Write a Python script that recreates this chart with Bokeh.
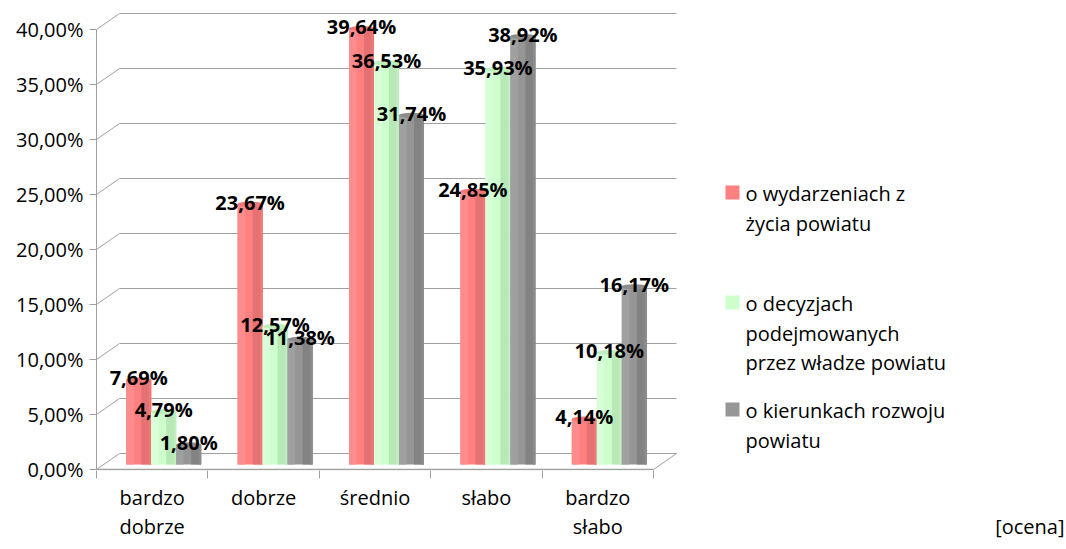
from bokeh.plotting import figure
from bokeh.models import Range1d, LinearAxis, FixedTicker, ColumnDataSource
from bokeh.core.properties import value
from bokeh.embed import file_html
from bokeh.resources import INLINE

# ---------------- data ----------------
categories = ["bardzo\ndobrze", "dobrze", "średnio", "słabo", "bardzo\nsłabo"]
series_names = ["o wydarzeniach z\nżycia powiatu",
                "o decyzjach\npodejmowanych\nprzez władze powiatu",
                "o kierunkach rozwoju\npowiatu"]
wydarzenia = [7.69, 23.67, 39.64, 24.85, 4.14]
decyzje = [4.79, 12.57, 36.53, 35.93, 10.18]
kierunki = [1.80, 11.38, 31.74, 38.92, 16.17]
y_ticks = [0, 5, 10, 15, 20, 25, 30, 35, 40]
y_tick_labels = ["0,00%", "5,00%", "10,00%", "15,00%", "20,00%",
                 "25,00%", "30,00%", "35,00%", "40,00%"]
x_title = "[ocena]"

# ---------------- style / geometry ----------------
FONT = "Open Sans"
GRID = "#a0a0a0"
PX_CAT = 111.4            # pixels per category
PX_Y = 11.0               # pixels per percent
BASE_PX = 464             # pixel row of the bars' base
DX = 23 / PX_CAT          # depth offset in x (category units)
BACK = 11 / PX_Y          # back wall offset (percent units)
FRONT = -5 / PX_Y         # front axis offset (percent units)
BAR_OFF = 11.5 / PX_CAT   # bars sit mid-depth
BW = 25 / PX_CAT          # bar width

palettes = [
    dict(base="#FF8080", light="#FF8C8C", dark="#E57272", cap="#F27878"),
    dict(base="#CCFFCC", light="#D8FFD8", dark="#B8E8B8", cap="#BFEFBF"),
    dict(base="#969696", light="#A0A0A0", dark="#838383", cap="#8C8C8C"),
]

W, H = 1064, 547
LEFT = 96
FRAME_BOTTOM = 470
BOTTOM = H - FRAME_BOTTOM
x_end = (W - LEFT) / PX_CAT
y_start = (BASE_PX - FRAME_BOTTOM) / PX_Y
y_end = BASE_PX / PX_Y


def xd(px):
    return (px - LEFT) / PX_CAT


def yd(py):
    return (BASE_PX - py) / PX_Y


p = figure(width=W, height=H, output_backend="svg", toolbar_location=None,
           x_range=Range1d(0, x_end), y_range=Range1d(y_start, y_end),
           x_axis_location=None, y_axis_location=None,
           min_border_left=LEFT, min_border_right=0, min_border_top=0,
           min_border_bottom=BOTTOM, outline_line_color=None)
p.xgrid.visible = False
p.ygrid.visible = False

ncat = len(categories)

# ---------------- 3D walls / floor ----------------
n = len(y_ticks)
p.segment(x0=[DX] * n, y0=[t + BACK for t in y_ticks],
          x1=[ncat + DX] * n, y1=[t + BACK for t in y_ticks],
          line_color=GRID, line_width=1)
p.segment(x0=[0] * n, y0=[t + FRONT for t in y_ticks],
          x1=[DX] * n, y1=[t + BACK for t in y_ticks],
          line_color=GRID, line_width=1)
p.segment(x0=[ncat], y0=[FRONT], x1=[ncat + DX], y1=[BACK],
          line_color=GRID, line_width=1)
p.segment(x0=[0], y0=[FRONT], x1=[ncat], y1=[FRONT],
          line_color=GRID, line_width=1.5)

# ---------------- bars ----------------
series = [wydarzenia, decyzje, kierunki]
for k, vals in enumerate(series):
    pal = palettes[k]
    xs = [i + 0.5 + BAR_OFF + (k - 1) * BW for i in range(ncat)]
    src = ColumnDataSource(dict(
        x=xs, top=vals,
        xl=[x - 0.35 * BW for x in xs],
        xr=[x + 0.3 * BW for x in xs],
        xe=[x + 0.45 * BW for x in xs],
    ))
    p.vbar(x="x", top="top", bottom=0, width=BW, source=src,
           fill_color=pal["base"], line_color=None)
    p.vbar(x="xl", top="top", bottom=0, width=0.3 * BW, source=src,
           fill_color=pal["light"], line_color=None)
    p.vbar(x="xr", top="top", bottom=0, width=0.4 * BW, source=src,
           fill_color=pal["dark"], line_color=None)
    p.vbar(x="xe", top="top", bottom=0, width=0.1 * BW, source=src,
           fill_color=pal["cap"], line_color=None)
    p.ellipse(x="x", y="top", width=BW, height=5 / PX_Y, source=src,
              fill_color=pal["cap"], line_color=None)

for k, vals in enumerate(series):
    xs = [i + 0.5 + BAR_OFF + (k - 1) * BW for i in range(ncat)]
    p.text(x=xs, y=vals, text=[f"{v:.2f}%".replace(".", ",") for v in vals],
           text_align="center", text_baseline="middle", y_offset=-2,
           text_font=value(FONT), text_font_style="bold",
           text_font_size="20px", text_color="#000000")

# ---------------- axes ----------------
p.extra_y_ranges = {"ax": Range1d(y_start - FRONT, y_end - FRONT)}
yaxis = LinearAxis(y_range_name="ax", ticker=FixedTicker(ticks=y_ticks),
                   bounds=(y_ticks[0], y_ticks[-1]),
                   major_label_overrides={t: l for t, l in zip(y_ticks, y_tick_labels)},
                   axis_line_color=GRID, major_tick_line_color=GRID,
                   major_tick_in=0, major_tick_out=7, minor_tick_line_color=None,
                   major_label_standoff=6,
                   major_label_text_font=FONT, major_label_text_font_size="20px",
                   major_label_text_color="#000000")
p.add_layout(yaxis, "left")

centers = [i + 0.5 for i in range(ncat)]
title_pos = 8.4
overrides = {c: l for c, l in zip(centers, categories)}
overrides[title_pos] = "\n" + x_title
xaxis = LinearAxis(ticker=FixedTicker(ticks=centers + [title_pos],
                                      minor_ticks=list(range(ncat + 1))),
                   major_label_overrides=overrides,
                   axis_line_color=None, major_tick_line_color=None,
                   major_tick_in=0, major_tick_out=8,
                   minor_tick_line_color=GRID, minor_tick_in=0, minor_tick_out=8,
                   major_label_standoff=5,
                   major_label_text_font=FONT, major_label_text_font_size="20px",
                   major_label_text_color="#000000",
                   major_label_text_line_height=1.08)
p.add_layout(xaxis, "below")

# ---------------- legend (drawn inside the wide frame) ----------------
colors = [pal["base"] for pal in palettes]
first_line_py = [193, 303, 410]
LINE_PX = 29.5
p.rect(x=[xd(732)] * 3, y=[yd(py - 1) for py in first_line_py],
       width=14, height=14, width_units="screen", height_units="screen",
       fill_color=colors, line_color=None)
lx, ly, lt = [], [], []
for k, name in enumerate(series_names):
    for j, line in enumerate(name.split("\n")):
        lx.append(xd(745))
        ly.append(yd(first_line_py[k] + j * LINE_PX))
        lt.append(line)
p.text(x=lx, y=ly, text=lt, text_align="left", text_baseline="middle",
       text_font=value(FONT), text_font_size="20px", text_color="#000000")

open("out.html", "w").write(file_html(p, INLINE))
